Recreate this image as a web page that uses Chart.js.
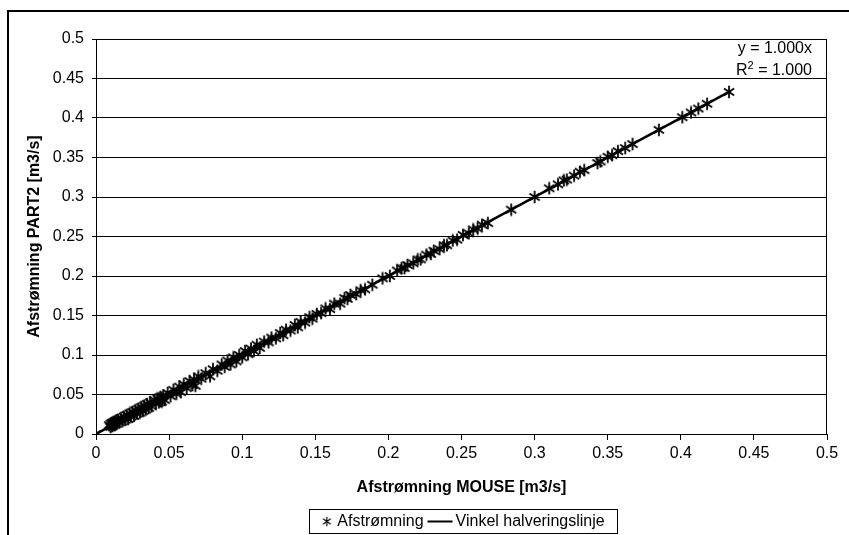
<!DOCTYPE html>
<html>
<head>
<meta charset="utf-8">
<script src="https://cdn.jsdelivr.net/npm/chart.js@4"></script>
<style>
  html, body { margin: 0; padding: 0; background: #fff; }
  #wrap { position: relative; width: 849px; height: 535px; }
</style>
</head>
<body>
<div id="wrap"><canvas id="c" width="849" height="535"></canvas></div>
<script>
// ---- data ----
const seriesNames = ['Afstrømning', 'Vinkel halveringslinje'];
const xTitle = 'Afstrømning MOUSE [m3/s]';
const yTitle = 'Afstrømning PART2 [m3/s]';
const tickLabels = ['0', '0.05', '0.1', '0.15', '0.2', '0.25', '0.3', '0.35', '0.4', '0.45', '0.5'];
const eqText = 'y = 1.000x';
const r2Value = '1.000';

const mouseFlow = [0, 0.009, 0.010, 0.010, 0.011, 0.011, 0.012, 0.012, 0.013, 0.013, 0.014, 0.014, 0.015, 0.016, 0.017, 0.018, 0.019, 0.020, 0.021, 0.022, 0.023, 0.024, 0.025, 0.026, 0.027, 0.028, 0.029, 0.030, 0.031, 0.032, 0.033, 0.034, 0.035, 0.036, 0.037, 0.038, 0.040, 0.041, 0.042, 0.043, 0.044, 0.044, 0.045, 0.045, 0.046, 0.047, 0.049, 0.051, 0.053, 0.055, 0.057, 0.058, 0.060, 0.062, 0.064, 0.066, 0.067, 0.068, 0.070, 0.072, 0.075, 0.078, 0.080, 0.083, 0.086, 0.088, 0.090, 0.092, 0.094, 0.096, 0.098, 0.100, 0.102, 0.104, 0.106, 0.108, 0.110, 0.112, 0.115, 0.118, 0.120, 0.123, 0.126, 0.128, 0.130, 0.133, 0.136, 0.138, 0.140, 0.143, 0.146, 0.148, 0.151, 0.154, 0.157, 0.160, 0.163, 0.167, 0.170, 0.172, 0.174, 0.178, 0.181, 0.184, 0.189, 0.196, 0.201, 0.206, 0.209, 0.211, 0.213, 0.217, 0.220, 0.222, 0.226, 0.229, 0.231, 0.235, 0.238, 0.240, 0.244, 0.247, 0.251, 0.255, 0.258, 0.261, 0.264, 0.268, 0.284, 0.300, 0.310, 0.316, 0.320, 0.322, 0.327, 0.331, 0.334, 0.343, 0.345, 0.350, 0.353, 0.357, 0.362, 0.367, 0.385, 0.401, 0.407, 0.412, 0.418, 0.433];
const part2Flow = [0, 0.011, 0.013, 0.009, 0.014, 0.010, 0.015, 0.011, 0.016, 0.012, 0.017, 0.013, 0.018, 0.015, 0.020, 0.016, 0.022, 0.018, 0.024, 0.019, 0.026, 0.022, 0.028, 0.023, 0.030, 0.026, 0.032, 0.027, 0.034, 0.029, 0.036, 0.031, 0.038, 0.033, 0.040, 0.035, 0.043, 0.039, 0.045, 0.040, 0.047, 0.042, 0.046, 0.041, 0.048, 0.043, 0.052, 0.048, 0.056, 0.051, 0.060, 0.053, 0.063, 0.058, 0.067, 0.062, 0.069, 0.061, 0.073, 0.070, 0.077, 0.073, 0.082, 0.080, 0.088, 0.085, 0.093, 0.088, 0.097, 0.092, 0.100, 0.097, 0.105, 0.101, 0.108, 0.105, 0.113, 0.109, 0.117, 0.116, 0.122, 0.121, 0.128, 0.125, 0.132, 0.131, 0.138, 0.135, 0.142, 0.141, 0.148, 0.146, 0.152, 0.153, 0.159, 0.158, 0.165, 0.165, 0.172, 0.171, 0.176, 0.177, 0.182, 0.183, 0.189, 0.197, 0.200, 0.207, 0.210, 0.210, 0.214, 0.216, 0.221, 0.221, 0.227, 0.228, 0.232, 0.234, 0.239, 0.239, 0.245, 0.246, 0.252, 0.254, 0.259, 0.260, 0.265, 0.267, 0.284, 0.300, 0.311, 0.316, 0.321, 0.322, 0.327, 0.332, 0.334, 0.343, 0.345, 0.351, 0.353, 0.358, 0.362, 0.367, 0.385, 0.401, 0.407, 0.412, 0.418, 0.433];
const lineX = [0, 0.433];
const lineY = [0, 0.433];

// ---- marker (asterisk) ----
function makeStar(size, lw) {
  const c = document.createElement('canvas');
  c.width = size; c.height = size;
  const g = c.getContext('2d');
  const r = size / 2 - 0.8, cx = size / 2, cy = size / 2;
  g.strokeStyle = '#000';
  g.lineWidth = lw;
  g.beginPath();
  [90, 35, 145].forEach(a => {
    const t = a * Math.PI / 180;
    g.moveTo(cx - r * Math.cos(t), cy - r * Math.sin(t));
    g.lineTo(cx + r * Math.cos(t), cy + r * Math.sin(t));
  });
  g.stroke();
  return c;
}
const star = makeStar(14, 1.8);
const legendStar = makeStar(11, 1.2);

const FONT = "'Liberation Sans', Arial, sans-serif";

const decor = {
  id: 'decor',
  afterDraw(chart) {
    const ctx = chart.ctx;
    const a = chart.chartArea;
    ctx.save();
    // outer frame
    ctx.strokeStyle = '#000';
    ctx.lineWidth = 2;
    ctx.beginPath();
    ctx.moveTo(8, 540); ctx.lineTo(8, 11); ctx.lineTo(860, 11);
    ctx.stroke();
    // plot border
    ctx.lineWidth = 1;
    ctx.strokeRect(a.left + 0.5, a.top + 0.5, a.right - a.left - 1, a.bottom - a.top);
    // equation
    ctx.fillStyle = '#000';
    ctx.font = '16px ' + FONT;
    ctx.textBaseline = 'middle';
    ctx.textAlign = 'right';
    ctx.fillText(eqText, 812, 49);
    const rest = ' = ' + r2Value;
    const wRest = ctx.measureText(rest).width;
    ctx.fillText(rest, 812, 71);
    ctx.font = '11px ' + FONT;
    const w2 = ctx.measureText('2').width;
    ctx.fillText('2', 812 - wRest, 66);
    ctx.font = '16px ' + FONT;
    ctx.fillText('R', 812 - wRest - w2, 71);
    // legend
    ctx.lineWidth = 1;
    const bx = 309, bw = 308;
    ctx.strokeRect(bx + 0.5, 509.5, bw, 24);
    ctx.font = '16px ' + FONT;
    const w0 = ctx.measureText(seriesNames[0]).width;
    const w1 = ctx.measureText(seriesNames[1]).width;
    const total = 11 + 5 + w0 + 4 + 25 + 3 + w1;
    let x = bx + (bw - total) / 2;
    ctx.drawImage(legendStar, x, 516);
    x += 11 + 5;
    ctx.textAlign = 'left';
    ctx.fillText(seriesNames[0], x, 522);
    x += w0 + 4;
    ctx.lineWidth = 2;
    ctx.beginPath(); ctx.moveTo(x, 521.5); ctx.lineTo(x + 25, 521.5); ctx.stroke();
    x += 28;
    ctx.fillText(seriesNames[1], x, 522);
    ctx.restore();
  }
};

new Chart(document.getElementById('c'), {
  type: 'scatter',
  data: {
    datasets: [
      {
        label: seriesNames[0],
        data: mouseFlow.map((x, i) => ({ x: x, y: part2Flow[i] })),
        pointStyle: star,
        pointRadius: 7,
        borderColor: '#000',
        backgroundColor: '#000',
        showLine: false,
        order: 1
      },
      {
        label: seriesNames[1],
        data: lineX.map((x, i) => ({ x: x, y: lineY[i] })),
        showLine: true,
        borderColor: '#000',
        borderWidth: 2.5,
        pointRadius: 0,
        order: 0
      }
    ]
  },
  options: {
    responsive: false,
    animation: false,
    events: [],
    layout: { padding: { left: 25, right: 22, top: 39, bottom: 38 } },
    plugins: { legend: { display: false }, tooltip: { enabled: false } },
    scales: {
      x: {
        type: 'linear', min: 0, max: 0.5,
        ticks: { stepSize: 0.05, color: '#000', font: { family: FONT, size: 16 }, padding: 4, maxRotation: 0,
                 callback: (v, i) => tickLabels[i] },
        grid: { drawOnChartArea: false, drawTicks: true, tickLength: 6, color: '#000' },
        border: { display: true, color: '#000', width: 1 },
        title: { display: true, text: xTitle, color: '#000', font: { family: FONT, size: 16, weight: 'bold' }, padding: { top: 0, bottom: 0 } },
        afterFit: s => { s.height = 63; }
      },
      y: {
        type: 'linear', min: 0, max: 0.5,
        ticks: { stepSize: 0.05, color: '#000', font: { family: FONT, size: 16 }, padding: 8,
                 callback: (v, i) => tickLabels[i] },
        grid: { drawOnChartArea: true, drawTicks: true, tickLength: 4, color: '#000' },
        border: { display: true, color: '#000', width: 1 },
        title: { display: true, text: yTitle, color: '#000', font: { family: FONT, size: 16, weight: 'bold' }, padding: { top: 0, bottom: 0 } },
        afterFit: s => { s.width = 71; }
      }
    }
  },
  plugins: [decor]
});
</script>
</body>
</html>
